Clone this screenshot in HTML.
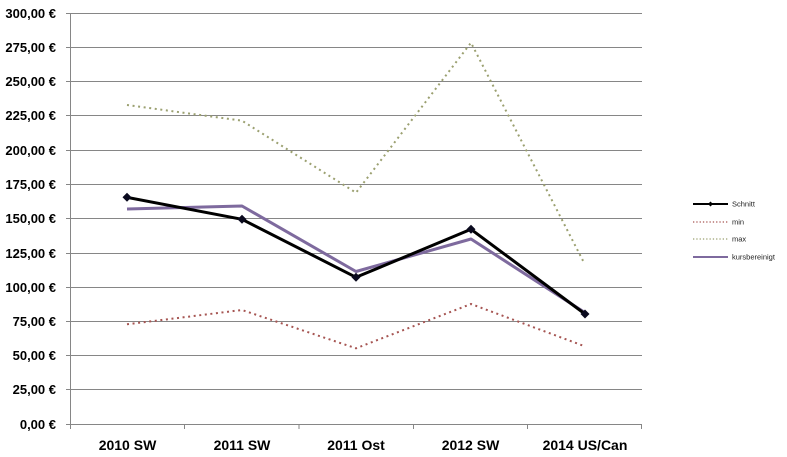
<!DOCTYPE html>
<html>
<head>
<meta charset="utf-8">
<style>
  html, body { margin: 0; padding: 0; background: #ffffff; }
  body { width: 787px; height: 457px; overflow: hidden; }
  svg { display: block; }
  .yl { font-family: "Liberation Sans", sans-serif; font-weight: bold; font-size: 13px; fill: #000; }
  .xl { font-family: "Liberation Sans", sans-serif; font-weight: bold; font-size: 14px; fill: #000; }
  .lg { font-family: "Liberation Sans", sans-serif; font-size: 7.5px; fill: #222; }
</style>
</head>
<body>
<svg width="787" height="457" viewBox="0 0 787 457" xmlns="http://www.w3.org/2000/svg">
  <rect x="0" y="0" width="787" height="457" fill="#ffffff"/>
  <!-- gridlines -->
  <g stroke="#868686" stroke-width="1">
    <line x1="66" y1="13.5" x2="642" y2="13.5"/>
    <line x1="66" y1="47.5" x2="642" y2="47.5"/>
    <line x1="66" y1="81.5" x2="642" y2="81.5"/>
    <line x1="66" y1="115.5" x2="642" y2="115.5"/>
    <line x1="66" y1="150.5" x2="642" y2="150.5"/>
    <line x1="66" y1="184.5" x2="642" y2="184.5"/>
    <line x1="66" y1="218.5" x2="642" y2="218.5"/>
    <line x1="66" y1="253.5" x2="642" y2="253.5"/>
    <line x1="66" y1="287.5" x2="642" y2="287.5"/>
    <line x1="66" y1="321.5" x2="642" y2="321.5"/>
    <line x1="66" y1="355.5" x2="642" y2="355.5"/>
    <line x1="66" y1="389.5" x2="642" y2="389.5"/>
    <line x1="66" y1="424.5" x2="642" y2="424.5"/>
    <!-- vertical axis -->
    <line x1="70.5" y1="13" x2="70.5" y2="429"/>
    <!-- category ticks -->
    <line x1="184.5" y1="424" x2="184.5" y2="429"/>
    <line x1="299" y1="424" x2="299" y2="429"/>
    <line x1="413.5" y1="424" x2="413.5" y2="429"/>
    <line x1="527.5" y1="424" x2="527.5" y2="429"/>
    <line x1="641.5" y1="424" x2="641.5" y2="429"/>
  </g>
  <!-- y labels -->
  <g class="yl" text-anchor="end">
    <text x="56" y="18">300,00 €</text>
    <text x="56" y="52">275,00 €</text>
    <text x="56" y="86">250,00 €</text>
    <text x="56" y="120">225,00 €</text>
    <text x="56" y="155">200,00 €</text>
    <text x="56" y="189">175,00 €</text>
    <text x="56" y="223">150,00 €</text>
    <text x="56" y="258">125,00 €</text>
    <text x="56" y="292">100,00 €</text>
    <text x="56" y="326">75,00 €</text>
    <text x="56" y="360">50,00 €</text>
    <text x="56" y="394">25,00 €</text>
    <text x="56" y="429">0,00 €</text>
  </g>
  <!-- x labels -->
  <g class="xl" text-anchor="middle">
    <text x="127.5" y="450">2010 SW</text>
    <text x="242" y="450">2011 SW</text>
    <text x="356" y="450">2011 Ost</text>
    <text x="470.5" y="450">2012 SW</text>
    <text x="585" y="450">2014 US/Can</text>
  </g>
  <!-- series: max -->
  <polyline points="127,105 242,120.7 356,192.7 471,42.7 584,262.7" fill="none" stroke="#9ba070" stroke-width="2" stroke-dasharray="2 3.6"/>
  <!-- series: min -->
  <polyline points="127,324.3 242,310 356,348.3 471,304 584,346" fill="none" stroke="#a65552" stroke-width="2" stroke-dasharray="2 3.6"/>
  <!-- series: kursbereinigt -->
  <polyline points="127,209 242,206 356,271.5 471,239 584,312" fill="none" stroke="#7e6a9e" stroke-width="3" stroke-linejoin="round"/>
  <!-- series: Schnitt -->
  <polyline points="127,197.3 242,219.3 356,277.3 471,229.3 585,314" fill="none" stroke="#000000" stroke-width="3" stroke-linejoin="round"/>
  <g fill="#0a0a1e">
    <polygon points="127,192.8 131.5,197.3 127,201.8 122.5,197.3"/>
    <polygon points="242,214.8 246.5,219.3 242,223.8 237.5,219.3"/>
    <polygon points="356,272.8 360.5,277.3 356,281.8 351.5,277.3"/>
    <polygon points="471,224.8 475.5,229.3 471,233.8 466.5,229.3"/>
    <polygon points="585,309.5 589.5,314 585,318.5 580.5,314"/>
  </g>
  <!-- legend -->
  <line x1="693" y1="204" x2="728" y2="204" stroke="#000" stroke-width="2"/>
  <polygon points="710.5,201.5 713,204 710.5,206.5 708,204" fill="#000"/>
  <text class="lg" x="732" y="206.5">Schnitt</text>
  <line x1="693" y1="222" x2="728" y2="222" stroke="#a65552" stroke-width="1.3" stroke-dasharray="1.3 2"/>
  <text class="lg" x="732" y="224.5">min</text>
  <line x1="693" y1="239" x2="728" y2="239" stroke="#9ba070" stroke-width="1.3" stroke-dasharray="1.3 2"/>
  <text class="lg" x="732" y="241.5">max</text>
  <line x1="693" y1="257" x2="728" y2="257" stroke="#7e6a9e" stroke-width="2"/>
  <text class="lg" x="732" y="259.5">kursbereinigt</text>
</svg>
</body>
</html>
